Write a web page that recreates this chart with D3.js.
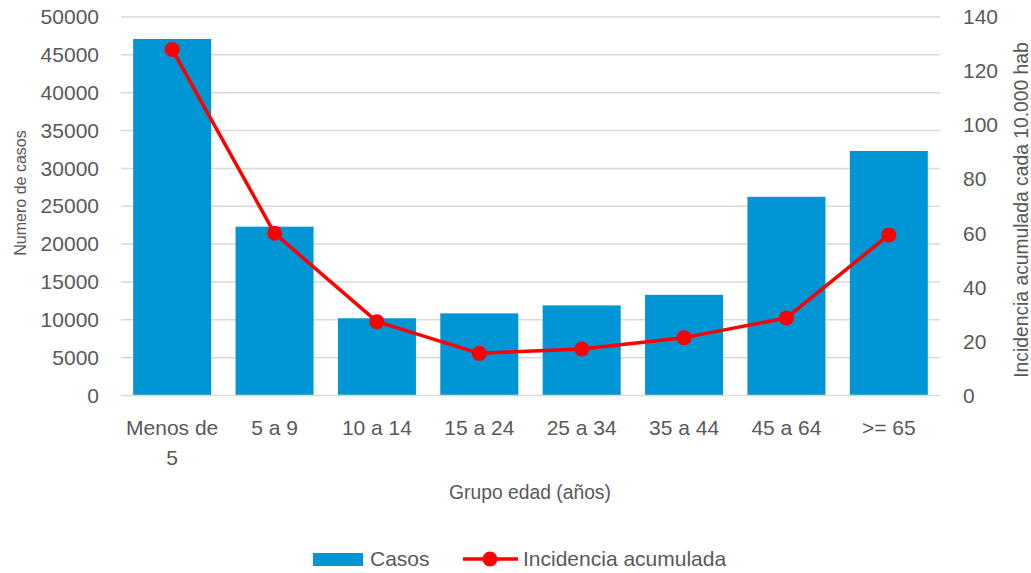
<!DOCTYPE html>
<html>
<head>
<meta charset="utf-8">
<script src="https://cdn.jsdelivr.net/npm/d3@7"></script>
<style>
  html, body { margin: 0; padding: 0; background: #fff; }
  text { font-family: "Liberation Sans", Arial, sans-serif; fill: #595959; }
</style>
</head>
<body>
<svg id="chart" width="1031" height="573"></svg>
<script>
const categories = ["Menos de 5", "5 a 9", "10 a 14", "15 a 24", "25 a 34", "35 a 44", "45 a 64", ">= 65"];
const casos = [47100, 22300, 10200, 10850, 11900, 13300, 26250, 32300];
const incidencia = [128, 60, 27.3, 15.6, 17.2, 21.4, 28.7, 59.4];
const leftTicks = [0, 5000, 10000, 15000, 20000, 25000, 30000, 35000, 40000, 45000, 50000];
const rightTicks = [0, 20, 40, 60, 80, 100, 120, 140];

const svg = d3.select("#chart");
const plot = { left: 121, right: 940, top: 17, bottom: 395.5 };

const x = d3.scaleBand().domain(categories).range([plot.left, plot.right]).paddingInner(0.238).paddingOuter(0.119);
const yL = d3.scaleLinear().domain([0, 50000]).range([plot.bottom, plot.top]);
const yR = d3.scaleLinear().domain([0, 140]).range([plot.bottom, plot.top]);

// gridlines
svg.append("g").selectAll("line").data(leftTicks.filter(d => d > 0)).join("line")
  .attr("x1", plot.left).attr("x2", plot.right)
  .attr("y1", d => yL(d)).attr("y2", d => yL(d))
  .attr("stroke", "#d9d9d9").attr("stroke-width", 1.5);

// bars
svg.append("g").selectAll("rect").data(casos).join("rect")
  .attr("x", (d, i) => x(categories[i]))
  .attr("width", x.bandwidth())
  .attr("y", d => yL(d))
  .attr("height", d => yL(0) - yL(d))
  .attr("fill", "#0095d5");

// baseline
svg.append("line").attr("x1", plot.left).attr("x2", plot.right)
  .attr("y1", yL(0)).attr("y2", yL(0)).attr("stroke", "#d9d9d9").attr("stroke-width", 1.5);

// left axis
const axL = d3.axisLeft(yL).tickValues(leftTicks).tickSize(0).tickPadding(22).tickFormat(d3.format("d"));
const gL = svg.append("g").attr("transform", `translate(${plot.left},0)`).call(axL);
gL.select(".domain").remove();
gL.selectAll("text").style("font-size", "21px").attr("fill", "#595959").style("font-family", "Liberation Sans, Arial, sans-serif");

// right axis
const axR = d3.axisRight(yR).tickValues(rightTicks).tickSize(0).tickPadding(23);
const gR = svg.append("g").attr("transform", `translate(${plot.right},0)`).call(axR);
gR.select(".domain").remove();
gR.selectAll("text").style("font-size", "21px").attr("fill", "#595959").style("font-family", "Liberation Sans, Arial, sans-serif");

// x axis labels (wrapped)
const xl = svg.append("g");
categories.forEach(c => {
  const cx = x(c) + x.bandwidth() / 2;
  const t = xl.append("text").attr("text-anchor", "middle").style("font-size", "21px");
  const lines = c === "Menos de 5" ? ["Menos de", "5"] : [c];
  lines.forEach((ln, j) => {
    t.append("tspan").attr("x", cx).attr("y", 428 + j * 30).attr("dy", "0.35em").text(ln);
  });
});

// line
const line = d3.line().x((d, i) => x(categories[i]) + x.bandwidth() / 2).y(d => yR(d));
svg.append("path").datum(incidencia).attr("d", line)
  .attr("fill", "none").attr("stroke", "#ff0000").attr("stroke-width", 3.5).attr("stroke-linejoin", "round");
svg.append("g").selectAll("circle").data(incidencia).join("circle")
  .attr("cx", (d, i) => x(categories[i]) + x.bandwidth() / 2)
  .attr("cy", d => yR(d)).attr("r", 7.5).attr("fill", "#ff0000");

// axis titles
svg.append("text").attr("transform", "translate(20,193) rotate(-90)")
  .attr("text-anchor", "middle").attr("dy", "0.35em").style("font-size", "16px").text("Numero de casos");
svg.append("text").attr("transform", "translate(1021,210) rotate(-90)")
  .attr("text-anchor", "middle").attr("dy", "0.35em").style("font-size", "19.3px").text("Incidencia acumulada cada 10.000 hab");
svg.append("text").attr("x", 530).attr("y", 492).attr("text-anchor", "middle").attr("dy", "0.35em")
  .style("font-size", "19.3px").text("Grupo edad (años)");

// legend
const lg = svg.append("g");
lg.append("rect").attr("x", 313).attr("y", 553).attr("width", 50).attr("height", 13).attr("fill", "#0095d5");
lg.append("text").attr("x", 370).attr("y", 559).attr("dy", "0.35em").style("font-size", "21px").text("Casos");
lg.append("line").attr("x1", 463).attr("x2", 518).attr("y1", 559).attr("y2", 559).attr("stroke", "#ff0000").attr("stroke-width", 3.5);
lg.append("circle").attr("cx", 490).attr("cy", 559).attr("r", 7.5).attr("fill", "#ff0000");
lg.append("text").attr("x", 523).attr("y", 559).attr("dy", "0.35em").style("font-size", "21px").text("Incidencia acumulada");
</script>
</body>
</html>
